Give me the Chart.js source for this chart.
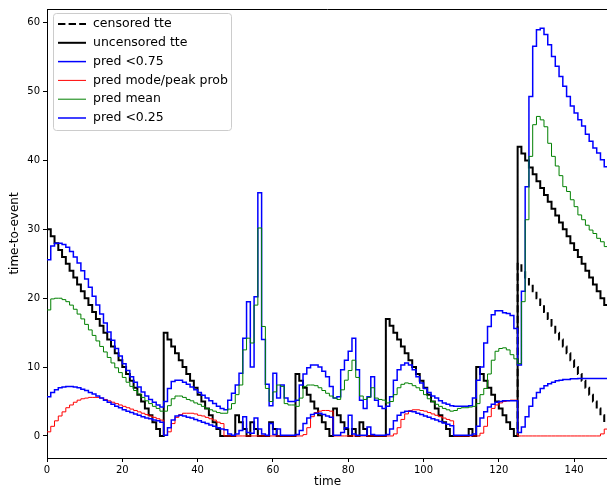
<!DOCTYPE html>
<html><head><meta charset="utf-8">
<script src="https://cdn.jsdelivr.net/npm/chart.js@4.4.0/dist/chart.umd.min.js"></script>
<style>
html,body{margin:0;padding:0;overflow:hidden;background:#fff;width:607px;height:489px}
#wrap{width:607px;height:489px;overflow:hidden;position:relative}
canvas{display:block}
</style>
</head><body><div id="wrap"><canvas id="c" width="612" height="489"></canvas></div>
<script>
// ---- data (one value per time step, t = 0..149) ----
// censored tte only differs from the uncensored one at the end of the window (hidden under it before)
const censoredTte = [null,null,null,null,null,null,null,null,null,null,
null,null,null,null,null,null,null,null,null,null,
null,null,null,null,null,null,null,null,null,null,
null,null,null,null,null,null,null,null,null,null,
null,null,null,null,null,null,null,null,null,null,
null,null,null,null,null,null,null,null,null,null,
null,null,null,null,null,null,null,null,null,null,
null,null,null,null,null,null,null,null,null,null,
null,null,null,null,null,null,null,null,null,null,
null,null,null,null,null,null,null,null,null,null,
null,null,null,null,null,null,null,null,null,null,
null,null,null,null,null,null,null,null,null,null,
null,null,null,null,0,
25,24,23,22,21,20,19,18,17,16,15,14,13,12,11,10,9,8,7,6,5,4,3,2,1];
const uncensoredTte = [30,29,28,27,26,25,24,23,22,21,20,19,18,17,16,15,14,13,12,11,10,9,8,7,6,5,4,3,2,1,0,
15,14,13,12,11,10,9,8,7,6,5,4,3,2,1,0,
0,0,0,3,2,1,0,2,1,0,0,0,2,1,0,0,0,0,0,
9,8,7,6,5,4,3,2,1,0,
4,3,2,1,0,1,0,2,1,0,0,0,0,0,
17,16,15,14,13,12,11,10,9,8,7,6,5,4,3,2,1,0,
0,0,0,0,1,0,
10,9,8,7,6,5,4,3,2,1,0,
42,41,40,39,38,37,36,35,34,33,32,31,30,29,28,27,26,25,24,23,22,21,20,19,18];
const predQ75 = [25.6,27.6,28.0,28.0,27.8,27.4,26.8,26.0,25.1,24.0,
22.8,21.6,20.3,19.0,17.7,16.4,15.1,13.9,12.7,11.6,
10.5,9.5,8.6,7.8,7.1,6.4,5.8,5.3,4.9,4.5,
4.2,5.0,6.9,7.9,8.1,8.1,7.8,7.5,7.1,6.7,
6.3,5.9,5.5,5.1,4.7,4.3,4.0,3.8,5.2,6.2,
7.4,9.1,14.2,19.5,10.0,20.2,35.3,14.0,7.5,4.4,
9.1,5.5,7.4,5.5,5.0,5.0,5.2,7.4,9.0,9.9,
10.3,10.3,10.0,9.4,8.6,7.2,5.5,5.7,9.6,11.0,
12.3,14.2,9.6,5.2,4.0,5.7,8.6,5.2,4.3,4.0,
4.3,5.7,8.1,9.6,10.3,10.6,10.3,9.6,8.6,7.7,
6.9,6.3,5.8,5.5,5.1,4.8,4.6,4.4,4.3,4.3,
4.3,4.3,4.4,5.5,8.1,10.0,13.5,15.9,17.6,18.2,
18.2,17.9,17.8,17.5,15.6,10.3,21.0,36.2,49.3,56.6,
59.0,59.2,58.3,56.8,55.1,53.7,52.2,50.8,49.3,47.9,
46.9,45.9,45.0,43.8,42.8,41.8,41.1,40.1,39.1,38.3];
const predMode = [0.6,1.4,2.2,2.9,3.5,4.1,4.5,4.9,5.2,5.4,
5.5,5.6,5.6,5.6,5.5,5.3,5.1,4.9,4.7,4.5,
4.3,4.1,3.9,3.7,3.5,3.3,3.1,2.9,2.7,2.5,
2.3,0.1,0.6,1.8,2.7,3.1,3.3,3.3,3.3,3.2,
3.0,2.9,2.7,2.5,2.3,2.0,1.8,0,0,0,
0,0,0,0,0,0,0,0,0,0,
0,0,0,0,0,0,0,0,0.2,1.2,
2.8,3.4,3.6,3.7,3.7,3.6,0,0,0,0,
0,0,0,0,0,0,0,0,0,0,
0,0,0.3,1.2,2.4,3.2,3.7,3.8,3.8,3.7,
3.6,3.4,3.2,3.0,2.8,2.6,2.4,2.2,0,0,
0,0,0,0,0,0.4,1.4,2.8,4.0,4.5,
4.8,5.0,5.1,5.2,5.2,0,0,0,0,0,
0,0,0,0,0,0,0,0,0,0,
0,0,0,0,0,0,0,0.3,1.0,1.6];
const predMean = [18.3,19.9,20.0,20.0,19.8,19.5,19.0,18.4,17.7,17.0,
16.2,15.4,14.6,13.8,13.0,12.2,11.4,10.6,9.9,9.2,
8.5,7.8,7.2,6.6,6.1,5.6,5.1,4.7,4.3,4.0,
3.6,3.6,4.4,5.4,5.8,5.8,5.6,5.3,5.1,4.8,
4.6,4.3,4.0,3.8,3.6,3.4,3.3,3.3,3.9,4.7,
6.0,7.4,12.5,14.2,13.5,19.0,30.2,15.9,6.9,5.0,
6.4,7.4,7.2,4.7,4.5,4.5,4.3,5.5,7.2,7.4,
7.4,7.3,7.0,6.6,6.2,5.8,5.5,5.3,6.7,8.1,
9.5,11.0,8.5,5.8,5.3,5.6,7.0,5.5,5.3,5.2,
4.8,5.0,6.0,7.0,7.5,7.7,7.6,7.3,7.0,6.6,
6.0,5.4,5.0,4.6,4.3,4.0,3.8,3.6,3.7,4.0,
4.1,4.1,4.2,4.3,4.7,6.0,6.9,9.0,11.0,12.3,
12.7,12.8,12.5,11.8,11.2,10.5,19.5,31.4,40.6,45.2,
46.4,45.9,44.9,42.5,40.6,39.2,37.8,36.2,35.5,34.3,
33.3,32.1,31.4,30.6,29.9,29.4,28.7,28.2,27.5,27.0];
const predQ25 = [5.7,6.3,6.7,7.0,7.1,7.2,7.2,7.1,7.0,6.8,
6.6,6.3,6.1,5.8,5.5,5.2,4.9,4.6,4.3,4.1,
3.8,3.6,3.4,3.2,3.0,2.8,2.6,2.5,2.3,2.2,
2.0,0.1,1.2,2.3,2.9,3.0,2.9,2.7,2.6,2.4,
2.2,2.0,1.8,1.6,1.4,1.2,1.0,0.9,0.3,0.1,
0.3,0.8,2.8,0.5,0.4,2.6,1.0,0.3,0.1,1.8,
0.2,1.0,0.1,0.1,0.1,0.1,0.2,0.8,1.8,2.6,
3.1,3.3,3.3,3.1,2.9,2.7,0.1,0.1,0.5,1.2,
3.0,0.3,0.1,0.1,0.1,1.3,0.2,0.1,0.1,0.1,
0.2,1.0,2.2,3.0,3.4,3.6,3.6,3.5,3.3,3.1,
2.9,2.7,2.5,2.3,2.1,1.9,1.7,1.5,0.1,0.1,
0.1,0.1,0.1,0.3,1.4,2.6,3.5,4.2,4.6,4.9,
5.0,5.1,5.1,5.1,5.1,0.5,1.3,2.8,4.3,5.5,
6.3,6.9,7.3,7.6,7.8,8.0,8.1,8.2,8.2,8.3,
8.3,8.35,8.35,8.35,8.35,8.35,8.35,8.35,8.35,8.35];
const xTicks = [0,20,40,60,80,100,120,140];
const yTicks = [0,10,20,30,40,50,60];

// ---- chart ----
const FONT = "'DejaVu Sans', sans-serif";
const toPts = arr => arr.map((v, i) => ({x: i, y: v}));
function series(label, arr, color, width, order, dash) {
  return {label, data: toPts(arr), borderColor: color, backgroundColor: color,
    borderWidth: width, borderDash: dash || [], stepped: 'before', pointRadius: 0,
    pointHoverRadius: 0, fill: false, tension: 0, order, spanGaps: false,
    borderCapStyle: 'butt', borderJoinStyle: 'miter'};
}

const frameAndLegend = {
  id: 'frameAndLegend',
  afterDraw(chart) {
    const ctx = chart.ctx, a = chart.chartArea;
    ctx.save();
    ctx.strokeStyle = '#000'; ctx.lineWidth = 1; ctx.setLineDash([]);
    ctx.beginPath();
    ctx.moveTo(a.left, Math.round(a.top) + 0.5); ctx.lineTo(a.right, Math.round(a.top) + 0.5);
    ctx.moveTo(Math.round(a.right) - 0.5, a.top); ctx.lineTo(Math.round(a.right) - 0.5, a.bottom);
    ctx.stroke();
    // legend
    const bx = 53.5, by = 13.5, bw = 178, bh = 117, r = 3;
    ctx.beginPath();
    ctx.moveTo(bx + r, by); ctx.lineTo(bx + bw - r, by); ctx.arcTo(bx + bw, by, bx + bw, by + r, r);
    ctx.lineTo(bx + bw, by + bh - r); ctx.arcTo(bx + bw, by + bh, bx + bw - r, by + bh, r);
    ctx.lineTo(bx + r, by + bh); ctx.arcTo(bx, by + bh, bx, by + bh - r, r);
    ctx.lineTo(bx, by + r); ctx.arcTo(bx, by, bx + r, by, r); ctx.closePath();
    ctx.fillStyle = 'rgba(255,255,255,0.8)'; ctx.fill();
    ctx.strokeStyle = '#cccccc'; ctx.lineWidth = 1; ctx.stroke();
    ctx.font = "12.5px " + FONT; ctx.textBaseline = 'middle'; ctx.textAlign = 'left';
    chart.data.datasets.forEach((d, i) => {
      const y = 24 + i * 18.8;
      ctx.beginPath(); ctx.setLineDash(d.borderDash || []);
      ctx.strokeStyle = d.borderColor; ctx.lineWidth = d.borderWidth;
      ctx.moveTo(58, y); ctx.lineTo(86, y); ctx.stroke();
      ctx.setLineDash([]);
      ctx.fillStyle = '#000'; ctx.fillText(d.label, 93, y);
    });
    ctx.restore();
  }
};

new Chart(document.getElementById('c'), {
  type: 'line',
  data: {
    datasets: [
      series('censored tte', censoredTte, '#000000', 2, 6, [7.4, 3.2]),
      series('uncensored tte', uncensoredTte, '#000000', 2, 5),
      series('pred <0.75', predQ75, '#0000ff', 1.5, 4),
      series('pred mode/peak prob', predMode, '#ff0000', 1, 3),
      series('pred mean', predMean, '#008000', 1, 2),
      series('pred <0.25', predQ25, '#0000ff', 1.5, 1)
    ]
  },
  options: {
    responsive: false, animation: false, devicePixelRatio: 1,
    layout: {padding: {left: 0, top: 9, right: 4, bottom: 0}},
    plugins: {legend: {display: false}, tooltip: {enabled: false}},
    events: [],
    scales: {
      x: {
        type: 'linear', min: 0, max: 149,
        afterBuildTicks: s => { s.ticks = xTicks.map(v => ({value: v})); },
        afterFit: s => { s.height = 31; },
        ticks: {font: {family: FONT, size: 10}, color: '#000', padding: 2, maxRotation: 0, autoSkip: false},
        grid: {display: true, drawOnChartArea: false, drawTicks: true, tickLength: 4, color: '#000'},
        border: {display: true, color: '#000', width: 1},
        title: {display: true, text: 'time', font: {family: FONT, size: 12}, color: '#000', padding: {top: 0, bottom: 0}}
      },
      y: {
        type: 'linear', min: -3.2, max: 62.0,
        afterBuildTicks: s => { s.ticks = yTicks.map(v => ({value: v})); },
        afterFit: s => { s.width = 47; },
        ticks: {font: {family: FONT, size: 10}, color: '#000', padding: 3, autoSkip: false},
        grid: {display: true, drawOnChartArea: false, drawTicks: true, tickLength: 4, color: '#000'},
        border: {display: true, color: '#000', width: 1},
        title: {display: true, text: 'time-to-event', font: {family: FONT, size: 12}, color: '#000', padding: {top: 8, bottom: 0}}
      }
    }
  },
  plugins: [frameAndLegend]
});
</script>
</body></html>
